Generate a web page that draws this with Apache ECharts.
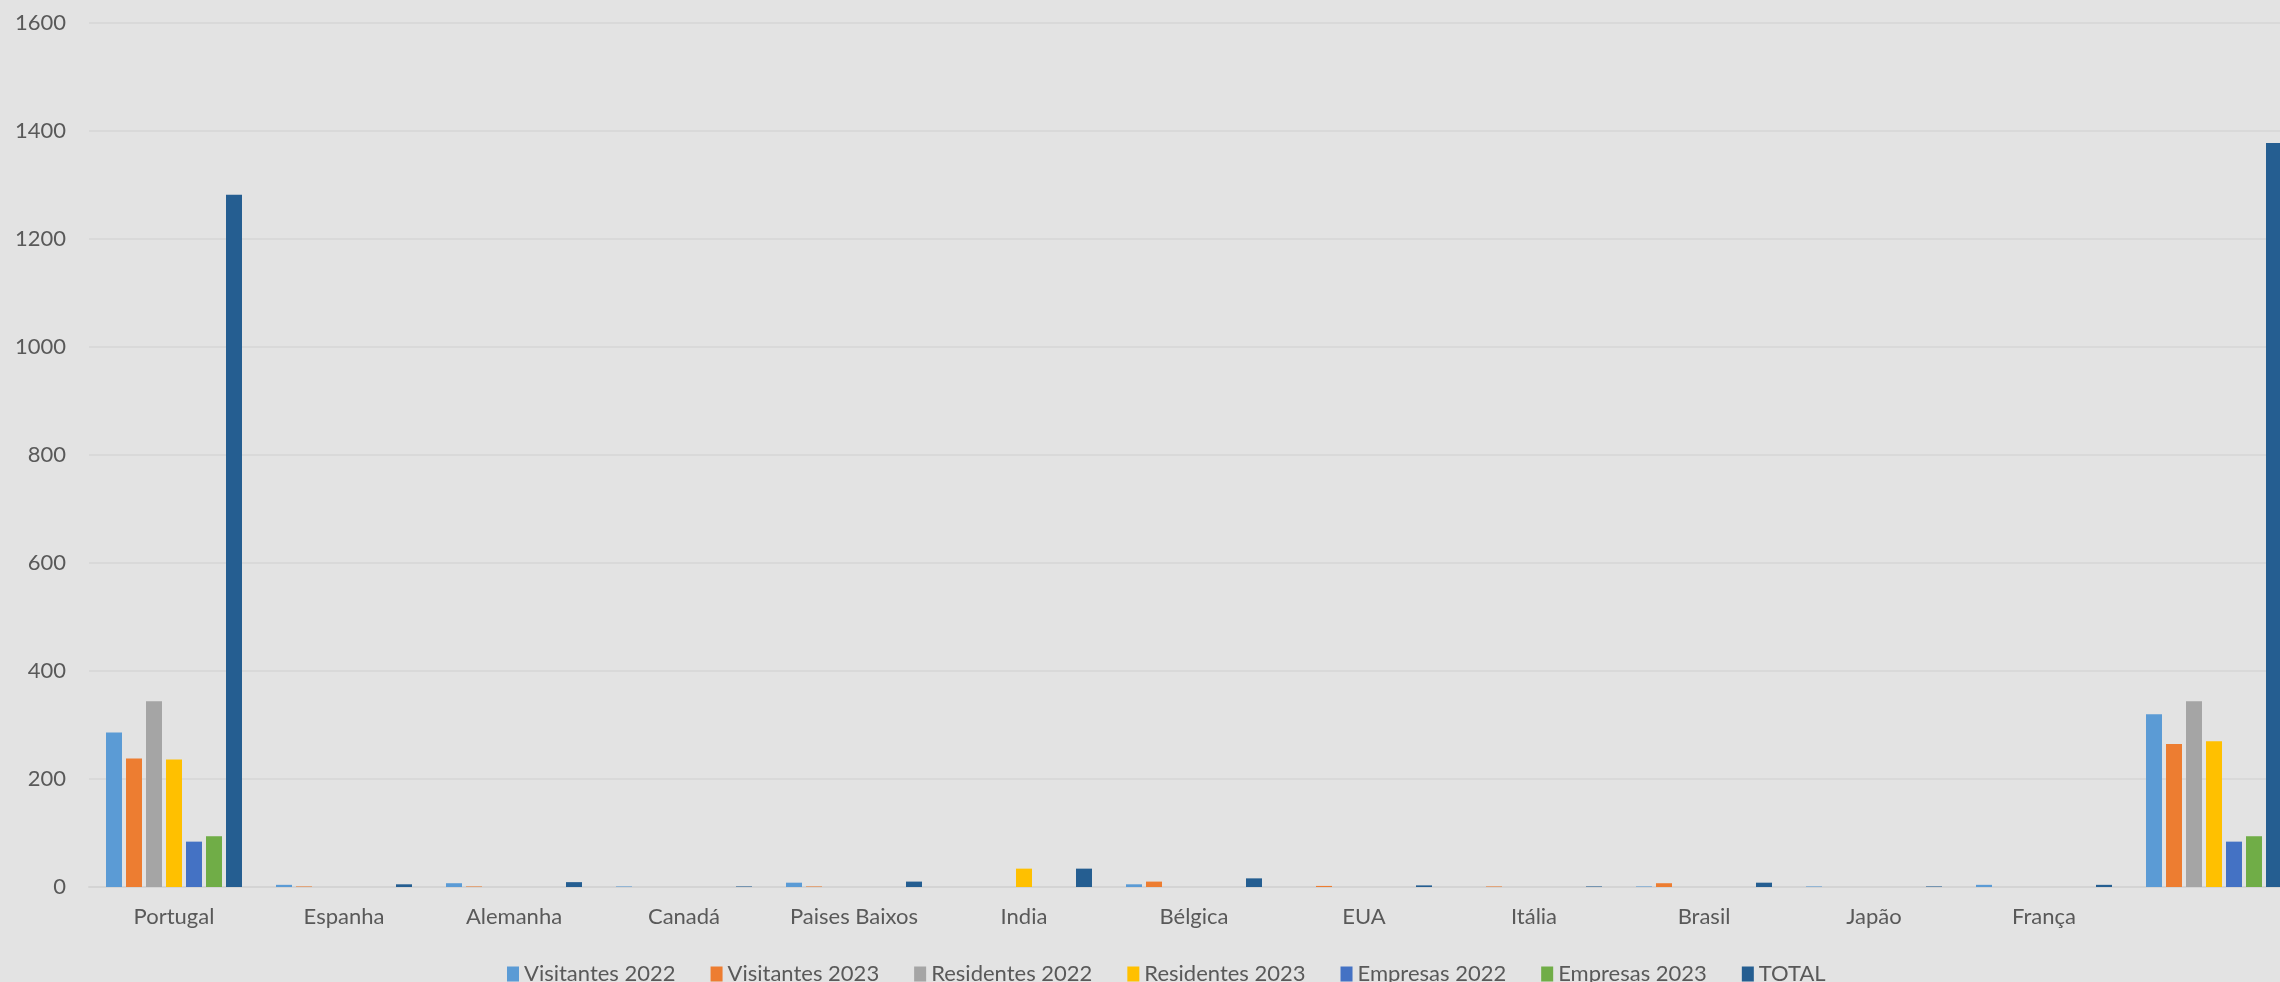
<!DOCTYPE html>
<html>
<head>
<meta charset="utf-8">
<script src="https://cdn.jsdelivr.net/npm/echarts@6/dist/echarts.min.js"></script>
<style>
html,body{margin:0;padding:0;overflow:hidden;background:#E3E3E3;}
#c{width:2300px;height:982px;}
</style>
</head>
<body>
<div id="c"></div>
<script>
const categories = ['Portugal','Espanha','Alemanha','Canadá','Paises Baixos','India','Bélgica','EUA','Itália','Brasil','Japão','França',''];
const visitantes2022 = [286, 4, 7, 1, 8, 0, 5, 0, 0, 1, 1, 4, 320];
const visitantes2023 = [238, 1, 1, 0, 1, 0, 10, 2, 1, 7, 0, 0, 265];
const residentes2022 = [344, 0, 0, 0, 0, 0, 0, 0, 0, 0, 0, 0, 344];
const residentes2023 = [236, 0, 0, 0, 0, 34, 0, 0, 0, 0, 0, 0, 270];
const empresas2022 = [84, 0, 0, 0, 0, 0, 0, 0, 0, 0, 0, 0, 84];
const empresas2023 = [94, 0, 0, 0, 0, 0, 0, 0, 0, 0, 0, 0, 94];
const total = [1282, 5, 9, 1, 10, 34, 16, 3, 1, 8, 1, 4, 1378];
const yTicks = {min: 0, max: 1600, interval: 200};

const seriesDefs = [
  ['Visitantes 2022', visitantes2022, '#5B9BD5'],
  ['Visitantes 2023', visitantes2023, '#ED7D31'],
  ['Residentes 2022', residentes2022, '#A5A5A5'],
  ['Residentes 2023', residentes2023, '#FFC000'],
  ['Empresas 2022', empresas2022, '#4472C4'],
  ['Empresas 2023', empresas2023, '#70AD47'],
  ['TOTAL', total, '#255E91']
];

const font = 'Lato, "Open Sans", sans-serif';
const fs = 22;
const chart = echarts.init(document.getElementById('c'), null, {renderer: 'canvas'});
chart.setOption({
  backgroundColor: '#E3E3E3',
  animation: false,
  textStyle: {fontFamily: font},
  grid: {left: 89, right: 1, top: 23, bottom: 95, containLabel: false},
  legend: {
    left: 502, top: 958, itemWidth: 12, itemHeight: 15, itemGap: 35,
    icon: 'rect',
    textStyle: {color: '#595959', fontSize: fs, fontFamily: font},
    data: seriesDefs.map(s => s[0])
  },
  xAxis: {
    type: 'category', data: categories,
    axisLine: {show: true, lineStyle: {color: '#D4D4D4', width: 2}},
    axisTick: {show: false},
    axisLabel: {color: '#595959', fontSize: fs, fontFamily: font, margin: 19, interval: 0}
  },
  yAxis: {
    type: 'value', min: yTicks.min, max: yTicks.max, interval: yTicks.interval,
    axisLine: {show: false}, axisTick: {show: false},
    axisLabel: {color: '#595959', fontSize: fs, fontFamily: font, margin: 23, formatter: v => String(v)},
    splitLine: {lineStyle: {color: '#D6D6D6', width: 1.5}}
  },
  series: seriesDefs.map(s => ({
    name: s[0], type: 'bar', data: s[1], barWidth: 16, barGap: '25%',
    itemStyle: {color: s[2]}
  }))
});
</script>
</body>
</html>
